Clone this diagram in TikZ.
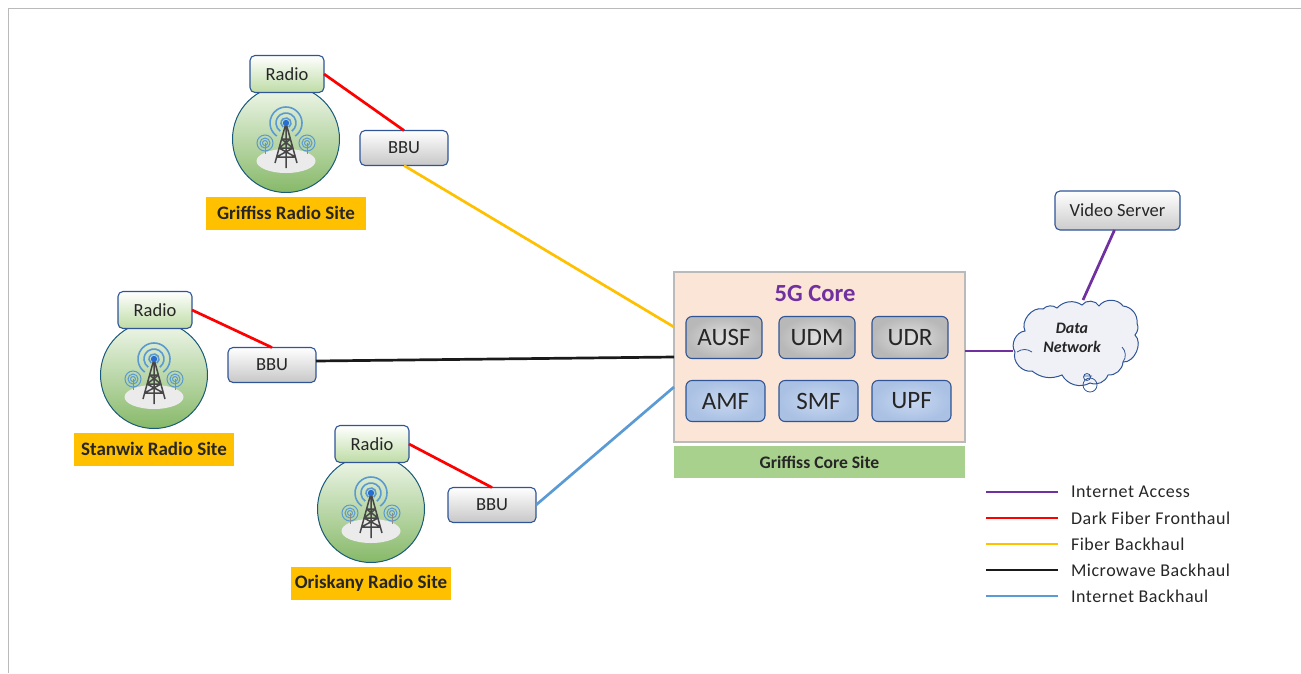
\documentclass[tikz,border=0pt]{standalone}
\usepackage{fontspec}
\setmainfont{Carlito}
\usetikzlibrary{calc}
\definecolor{bd}{HTML}{2F5597}
\definecolor{txt}{HTML}{262626}
\definecolor{wave}{HTML}{5A9AD0}
\definecolor{cpurple}{HTML}{7030A0}
\definecolor{cred}{HTML}{FF0000}
\definecolor{cyellow}{HTML}{FFC000}
\definecolor{cblack}{HTML}{1A1A1A}
\definecolor{cblue}{HTML}{5B9BD5}
\definecolor{radiogreen}{HTML}{BEDCA5}
\definecolor{nfblueA}{HTML}{C8D7F0}
\definecolor{nfblueB}{HTML}{AAC1E4}
\definecolor{ringc}{HTML}{195A78}
\definecolor{discA}{HTML}{F0F7EB}
\definecolor{discB}{HTML}{87B969}
\definecolor{dotc}{HTML}{286ED2}
\definecolor{corefill}{HTML}{FBE5D6}
\definecolor{sitegreen}{HTML}{A9D18E}
\definecolor{cloudfill}{HTML}{F0F1F6}
\tikzset{
  x=1pt,y=-1pt,
  every node/.style={inner sep=0pt,outer sep=0pt,text=txt},
  rbox/.style={draw=bd,line width=1.1pt,rounded corners=5pt,minimum width=#1,minimum height=37pt,font=\fontsize{18.5}{20}\selectfont},
  radiobox/.style={rbox=74pt,top color=white,bottom color=radiogreen},
  bbubox/.style={rbox=88pt,minimum height=35pt,top color=white,bottom color=black!22},
  nfgray/.style={draw=bd,line width=1.1pt,rounded corners=6pt,minimum height=42pt,font=\fontsize{25}{27}\selectfont,inner color=black!12,outer color=black!28},
  nfblue/.style={draw=bd,line width=1.1pt,rounded corners=6pt,minimum height=41pt,font=\fontsize{25}{27}\selectfont,inner color=nfblueA,outer color=nfblueB},
  sitelab/.style={fill=cyellow,minimum height=33pt,minimum width=160pt,font=\fontsize{19}{21}\selectfont\bfseries},
  link/.style={line width=2.7pt,draw=#1},
  legline/.style={line width=2.6pt,draw=#1},
  legtxt/.style={anchor=west,font=\fontsize{18}{20}\selectfont\addfontfeatures{LetterSpace=3}},
  wavearc/.style={draw=wave,line width=1.3pt},
}
\newcommand{\radiosite}[4]{%
\begin{scope}[shift={(#2,#3)}]
  \node[circle,minimum size=107pt,draw=ringc,line width=1pt,top color=discA,bottom color=discB] (#1c) at (0,0) {};
  \fill[white!92!black] (0,22) ellipse[x radius=29.5,y radius=12];
  \foreach \sx in {-21,21}{
    \draw[wavearc,line width=1pt] (\sx,4) circle[radius=2.5];
    \draw[wavearc,line width=1pt] (\sx,4) circle[radius=5];
    \draw[wavearc,line width=1pt] (\sx,4) circle[radius=8];
    \draw[black!45,line width=0.8pt] (\sx,4) -- (\sx,15);
  }
  \foreach \r in {5,10,16}{
    \draw[wavearc,line width=1.6pt] ([shift={(55:\r)}]0,-16) arc[start angle=55,end angle=-235,radius=\r];
  }
  \draw[black!72,line width=1.5pt,line join=round]
     (0,-16) -- (-11,24) (0,-16) -- (11,24) (0,-16) -- (0,29)
     (-4.5,0) -- (4.5,0) (-7,9) -- (7,9) (-9.5,18) -- (9.5,18)
     (-4.5,0) -- (7,9) (4.5,0) -- (-7,9) (-7,9) -- (9.5,18) (7,9) -- (-9.5,18);
  \fill[dotc] (0,-16) circle[radius=3.2];
  \node[radiobox] (#1r) at (1,-65) {Radio};
  \node[sitelab] (#1l) at (0,74) {#4};
\end{scope}}
\begin{document}
\begin{tikzpicture}
\useasboundingbox (0,0) rectangle (1301,673);
\draw[black!27,line width=1.3pt] (8.5,673) -- (8.5,8.5) -- (1301,8.5);

\radiosite{g}{286}{139}{Griffiss Radio Site}
\radiosite{s}{154}{375}{Stanwix Radio Site}
\radiosite{o}{371}{509}{Oriskany Radio Site}

\node[bbubox] (gb) at (404,148) {BBU};
\node[bbubox] (sb) at (272,365) {BBU};
\node[bbubox] (ob) at (492,505) {BBU};

\node[draw=black!27,line width=1.3pt,fill=corefill,minimum width=291pt,minimum height=170pt] (core) at (819.5,357) {};
\node[fill=sitegreen,minimum width=291pt,minimum height=32pt,font=\fontsize{17.6}{19}\selectfont\bfseries] (coresite) at (819.5,462) {Griffiss Core Site};
\node[font=\fontsize{24.6}{26}\selectfont\bfseries,text=cpurple] (title) at (815,293.5) {5G Core};
\node[nfgray,minimum width=76pt] (ausf) at (724,337.5) {AUSF};
\node[nfgray,minimum width=76pt] (udm) at (817,337.5) {UDM};
\node[nfgray,minimum width=76pt] (udr) at (910,337.5) {UDR};
\node[nfblue,minimum width=79pt] (amf) at (725.5,401) {AMF};
\node[nfblue,minimum width=79pt] (smf) at (818.5,401) {SMF};
\node[nfblue,minimum width=79pt] (upf) at (911.5,401) {UPF};

\node[rbox=125pt,minimum height=39pt,top color=white,bottom color=black!20] (video) at (1117.5,210.5) {Video Server};

% cloud
\coordinate (cw) at (1013,351);
\coordinate (cn) at (1083,300);
\draw[draw=bd,line width=1pt,fill=cloudfill]
 (1025,331) to[bend left=65] (1043,309) to[bend left=40] (1057,308) to[bend left=40] (1082,305)
 to[bend left=60] (1099,306) to[bend left=55] (1123,306) to[bend left=45] (1137,323)
 to[bend left=30] (1135,335) to[bend left=70] (1123,362) to[bend left=45] (1108,375)
 to[bend left=45] (1090,383) to[bend left=45] (1062,375) to[bend left=30] (1032,371)
 to[bend left=60] (1015,352) to[bend left=60] (1025,331) -- cycle;
\draw[bd,line width=0.8pt] (1122,347) to[bend left=40] (1123,362)
  (1032,352) to[bend right=35] (1017,352)
  (1087,377) circle[radius=3.5] (1090,385) circle[radius=7] (1084,376) -- (1092,376);
\node[font=\fontsize{16}{19}\selectfont\bfseries\itshape,align=center] (data) at (1072,337.5) {Data\\Network};

% connectors
\draw[link=cred] (gr.east) -- (gb.north);
\draw[link=cred] (sr.east) -- (sb.north);
\draw[link=cred] (or.east) -- (ob.north);
\draw[link=cyellow] (gb.south) -- ($(core.west)+(0,-30)$);
\draw[link=cblack] ($(sb.east)+(0,-4)$) -- (core.west);
\draw[link=cblue] (ob.east) -- ($(core.west)+(0,30)$);
\draw[link=cpurple] (core.east |- cw) -- (cw);
\draw[link=cpurple] ($(video.south)+(-3,0)$) -- (cn);

% legend
\foreach \n/\yy/\c/\t in {a/492/cpurple/Internet Access,
  b/518/cred/Dark Fiber Fronthaul,
  c/544/cyellow/Fiber Backhaul,
  d/570/cblack/Microwave Backhaul,
  e/596/cblue/Internet Backhaul}{
  \coordinate (l\n a) at (986,\yy);
  \coordinate (l\n b) at (1058,\yy);
  \draw[legline=\c] (l\n a) -- (l\n b);
  \node[legtxt] (l\n t) at (1071,\yy) {\t};
}
\end{tikzpicture}
\end{document}
